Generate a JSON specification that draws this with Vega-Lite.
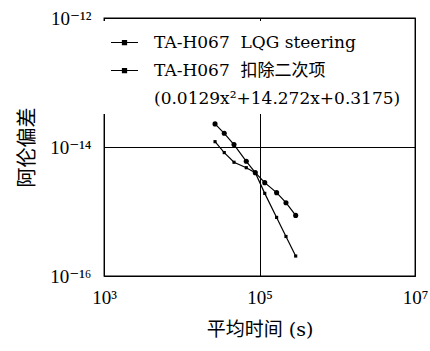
{
  "$schema": "https://vega.github.io/schema/vega-lite/v6.json",
  "width": 311,
  "height": 258,
  "autosize": {"type": "none"},
  "padding": {"left": 104, "top": 18, "right": 15, "bottom": 75},
  "config": {
    "font": "Liberation Serif, DejaVu Serif, Noto Sans CJK SC",
    "view": {"stroke": "black", "strokeWidth": 1.3},
    "axis": {"labelFont": "Liberation Serif, DejaVu Serif, Noto Sans CJK SC", "titleFont": "DejaVu Serif, Noto Sans CJK SC"},
    "legend": {"labelFont": "DejaVu Serif, Noto Sans CJK SC"}
  },
  "data": {
    "values": [
      {"series": "TA-H067\u00a0 LQG steering", "tau": 26800, "adev": 1.21e-14},
      {"series": "TA-H067\u00a0 LQG steering", "tau": 35200, "adev": 8.2e-15},
      {"series": "TA-H067\u00a0 LQG steering", "tau": 47000, "adev": 5.8e-15},
      {"series": "TA-H067\u00a0 LQG steering", "tau": 67600, "adev": 4.78e-15},
      {"series": "TA-H067\u00a0 LQG steering", "tau": 88300, "adev": 4.0e-15},
      {"series": "TA-H067\u00a0 LQG steering", "tau": 116800, "adev": 1.91e-15},
      {"series": "TA-H067\u00a0 LQG steering", "tau": 166000, "adev": 8.1e-16},
      {"series": "TA-H067\u00a0 LQG steering", "tau": 219000, "adev": 4.1e-16},
      {"series": "TA-H067\u00a0 LQG steering", "tau": 292000, "adev": 2.04e-16},
      {"series": "TA-H067\u00a0 扣除二次项", "tau": 26800, "adev": 2.28e-14},
      {"series": "TA-H067\u00a0 扣除二次项", "tau": 35200, "adev": 1.63e-14},
      {"series": "TA-H067\u00a0 扣除二次项", "tau": 47000, "adev": 1.09e-14},
      {"series": "TA-H067\u00a0 扣除二次项", "tau": 67600, "adev": 6.0e-15},
      {"series": "TA-H067\u00a0 扣除二次项", "tau": 88300, "adev": 4.0e-15},
      {"series": "TA-H067\u00a0 扣除二次项", "tau": 116800, "adev": 2.8e-15},
      {"series": "TA-H067\u00a0 扣除二次项", "tau": 166000, "adev": 1.96e-15},
      {"series": "TA-H067\u00a0 扣除二次项", "tau": 219000, "adev": 1.37e-15},
      {"series": "TA-H067\u00a0 扣除二次项", "tau": 292000, "adev": 8.7e-16}
    ]
  },
  "encoding": {
    "x": {
      "field": "tau", "type": "quantitative",
      "scale": {"type": "log", "domain": [1000, 10000000], "nice": false},
      "axis": {
        "values": [1000, 100000, 10000000],
        "labelExpr": "datum.value == 1000 ? '10³' : datum.value == 100000 ? '10⁵' : '10⁷'",
        "grid": true, "gridColor": "black", "gridOpacity": 1, "gridWidth": 1,
        "ticks": false, "domain": false, "labelFlush": false,
        "labelFontSize": 19, "labelPadding": 12, "labelColor": "black",
        "title": "平均时间 (s)", "titleFontSize": 19, "titleFontWeight": "normal",
        "titlePadding": 13, "titleColor": "black"
      }
    },
    "y": {
      "field": "adev", "type": "quantitative",
      "scale": {"type": "log", "domain": [1e-16, 1e-12], "nice": false},
      "axis": {
        "values": [1e-16, 1e-14, 1e-12],
        "labelExpr": "datum.value < 1e-15 ? '10⁻¹⁶' : datum.value < 1e-13 ? '10⁻¹⁴' : '10⁻¹²'",
        "grid": true, "gridColor": "black", "gridOpacity": 1, "gridWidth": 1,
        "ticks": false, "domain": false, "labelFlush": false,
        "labelFontSize": 19, "labelPadding": 13, "labelColor": "black",
        "title": "阿伦偏差", "titleFontSize": 20, "titleFontWeight": "normal",
        "titlePadding": 12, "titleColor": "black"
      }
    }
  },
  "layer": [
    {
      "mark": {"type": "line", "strokeWidth": 1.2},
      "encoding": {
        "color": {
          "field": "series", "type": "nominal",
          "scale": {
            "domain": ["TA-H067\u00a0 LQG steering", "TA-H067\u00a0 扣除二次项", "(0.0129x²+14.272x+0.3175)"],
            "range": ["black", "black", "transparent"]
          },
          "legend": {
            "orient": "none", "legendX": -1, "legendY": 3,
            "title": null, "fillColor": "white", "strokeColor": null,
            "padding": 7,
            "symbolType": "M-1,0H1M-0.15,-0.15H0.15V0.15H-0.15Z",
            "symbolSize": 729, "symbolStrokeWidth": 1.2, "symbolFillColor": "black",
            "labelFontSize": 17, "labelOffset": 15, "rowPadding": 5,
            "labelColor": "black", "labelLimit": 400,
            "labelFont": "DejaVu Serif, Noto Sans CJK SC",
            "encode": {
              "symbols": {"update": {"opacity": {"signal": "indexof(datum.value, '(') == 0 ? 0 : 1"}}}
            }
          }
        }
      }
    },
    {
      "mark": {"type": "point", "filled": true, "opacity": 1, "color": "black"},
      "encoding": {
        "shape": {
          "field": "series", "type": "nominal",
          "scale": {"domain": ["TA-H067\u00a0 LQG steering", "TA-H067\u00a0 扣除二次项"], "range": ["square", "circle"]},
          "legend": null
        },
        "size": {
          "field": "series", "type": "ordinal",
          "scale": {"domain": ["TA-H067\u00a0 LQG steering", "TA-H067\u00a0 扣除二次项"], "range": [10, 26]},
          "legend": null
        }
      }
    }
  ]
}
